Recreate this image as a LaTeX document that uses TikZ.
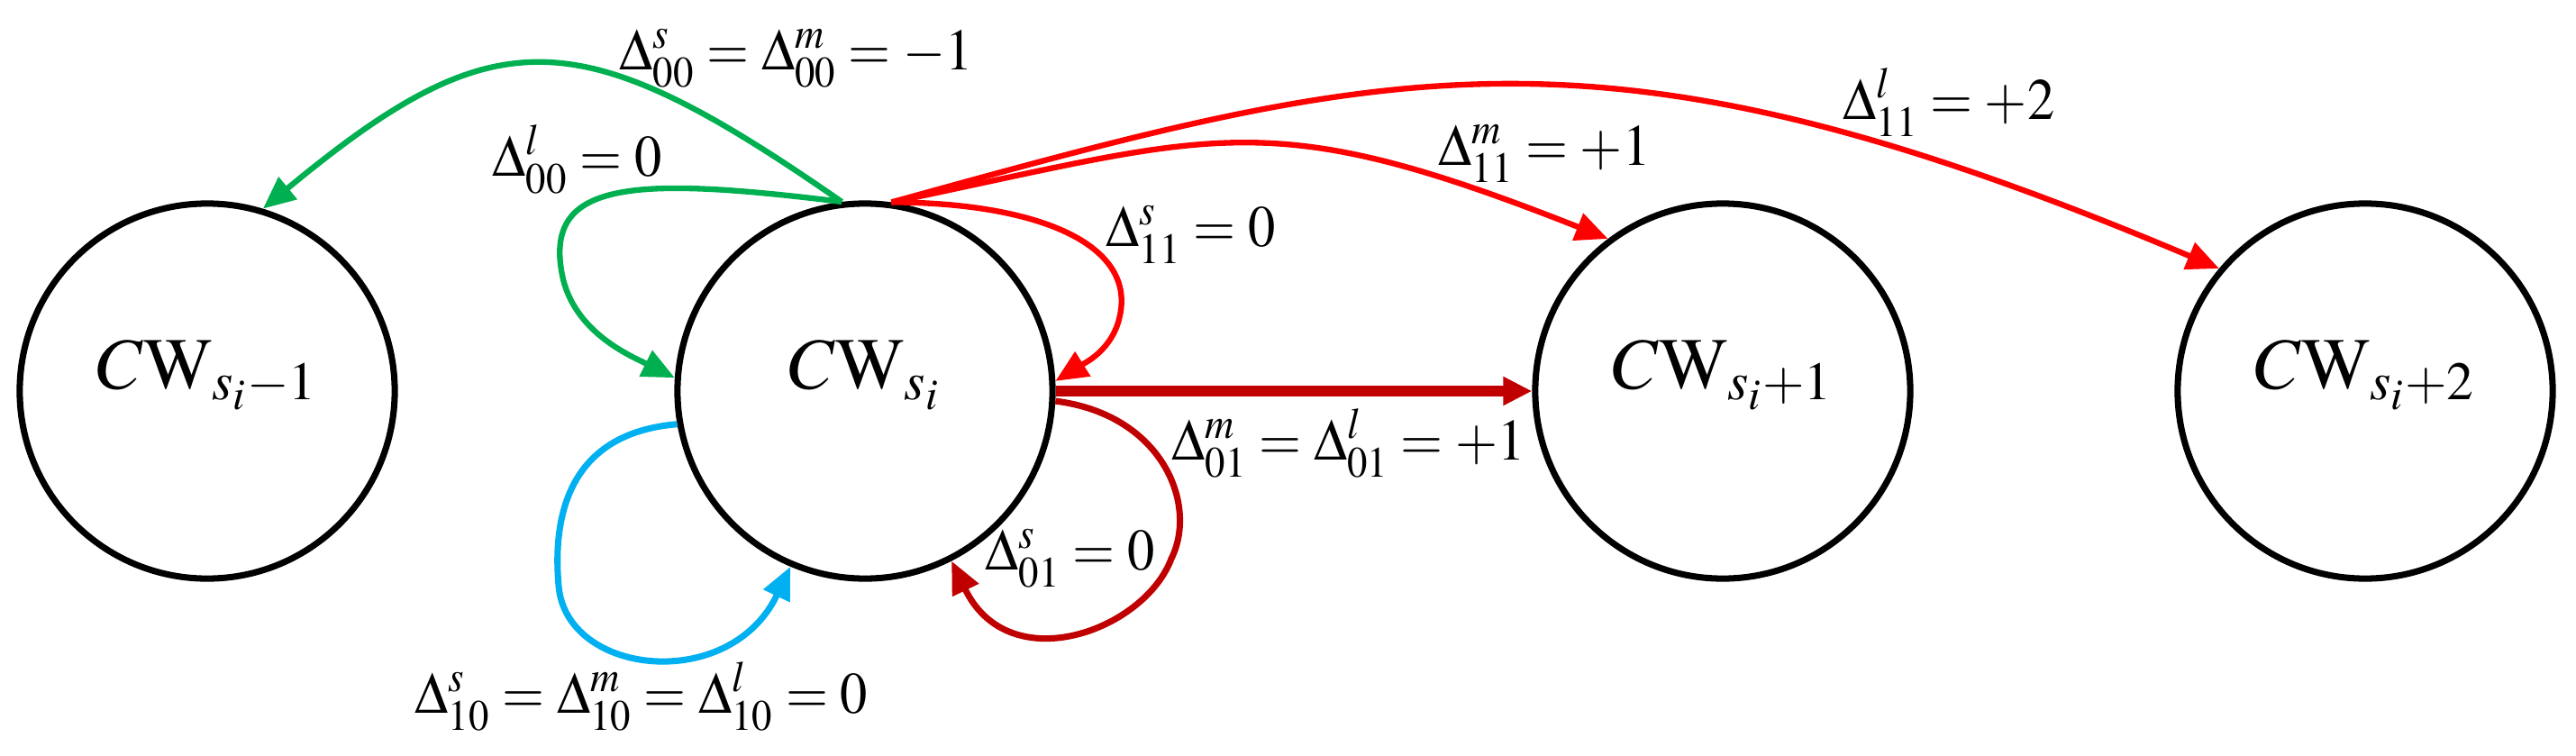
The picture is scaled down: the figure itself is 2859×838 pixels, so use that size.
\documentclass[tikz,border=0pt]{standalone}
\usepackage{mathptmx}
\usepackage{fontspec}
\setmainfont{Liberation Serif}
\usetikzlibrary{arrows.meta}
\definecolor{cgreen}{HTML}{00B050}
\definecolor{cred}{HTML}{FF0000}
\definecolor{cdark}{HTML}{C00000}
\definecolor{cblue}{HTML}{00B0F0}
\newcommand\lb[1]{\scalebox{0.93}[1]{$#1$}}
\begin{document}
\begin{tikzpicture}[x=0.01cm,y=0.01cm,
  state/.style={circle,draw,line width=2pt,minimum size=4.16cm,inner sep=0pt},
  stxt/.style={anchor=base,inner sep=0pt,font=\fontsize{23}{27}\selectfont},
  lbl/.style={anchor=base west,inner sep=0pt,font=\fontsize{18.5}{22}\selectfont},
  arr/.style={-{Triangle[length=0.36cm,width=0.31cm]}},
  gline/.style={arr,draw=cgreen,line width=1.8pt},
  rline/.style={arr,draw=cred,line width=1.8pt},
  dline/.style={arr,draw=cdark,line width=2pt},
  bline/.style={arr,draw=cblue,line width=2pt}]
\useasboundingbox (0,0) rectangle (2859,838);
\node[state] (C1) at (230,404) {};
\node[state] (C2) at (960,404) {};
\node[state] (C3) at (1912,404) {};
\node[state] (C4) at (2625,404) {};
\node[stxt] (T1) at ([yshift=0.03cm]C1.center) {$C\mathrm{W}_{s_i-1}$};
\node[stxt] (T2) at ([yshift=0.03cm]C2.center) {$C\mathrm{W}_{s_i}$};
\node[stxt] (T3) at ([yshift=0.03cm]C3.center) {$C\mathrm{W}_{s_i+1}$};
\node[stxt] (T4) at ([yshift=0.03cm]C4.center) {$C\mathrm{W}_{s_i+2}$};
% green arrows
\draw[gline] (C2.97) .. controls (642,817) and (550,820) .. (C1.73);
\draw[gline] (C2.97) .. controls (700,643) and (600,638) .. (625,528)
   .. controls (640,468) and (700,443) .. (C2.176);
% red arrows
\draw[rline] (C2.82) .. controls (1150,613) and (1260,568) .. (1243,488)
   .. controls (1235,448) and (1200,433) .. (C2.3);
\draw[rline] (C2.82) .. controls (1353,689) and (1403,724) .. (C3.127);
\draw[rline] (C2.82) .. controls (1551,769) and (1779,829) .. (C4.140);
% dark red
\draw[cdark,line width=3.2pt,-{Triangle[length=0.32cm,width=0.3cm]}] (C2.east) -- (C3.west);
\draw[dline] (C2.-3) .. controls (1290,378) and (1330,278) .. (1300,218)
   .. controls (1270,138) and (1120,83) .. (C2.-63);
% blue
\draw[bline] (C2.190) .. controls (640,358) and (612,278) .. (620,188)
   .. controls (628,88) and (810,68) .. (C2.247);
% labels
\node[lbl] (L1) at (687,761) {\lb{\Delta_{00}^{s}=\Delta_{00}^{m}=-1}};
\node[lbl] (L2) at (546,643) {\lb{\Delta_{00}^{l}=0}};
\node[lbl] (L3) at (1227,565) {\lb{\Delta_{11}^{s}=0}};
\node[lbl] (L4) at (1596,655) {\lb{\Delta_{11}^{m}=+1}};
\node[lbl] (L5) at (2045,706) {\lb{\Delta_{11}^{l}=+2}};
\node[lbl] (L6) at (1300,328) {\lb{\Delta_{01}^{m}=\Delta_{01}^{l}=+1}};
\node[lbl] (L7) at (1093,206) {\lb{\Delta_{01}^{s}=0}};
\node[lbl] (L8) at (460,47) {\lb{\Delta_{10}^{s}=\Delta_{10}^{m}=\Delta_{10}^{l}=0}};
\end{tikzpicture}
\end{document}
